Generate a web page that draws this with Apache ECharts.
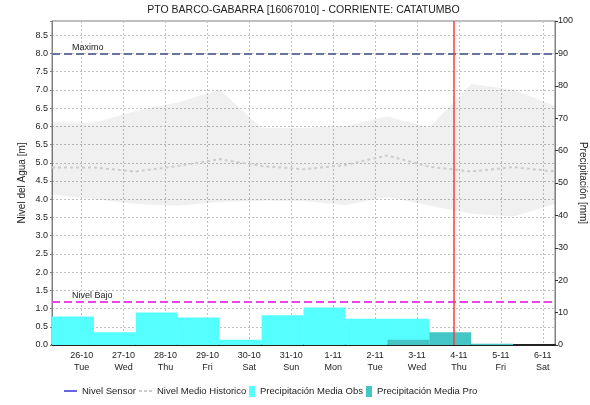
<!DOCTYPE html>
<html>
<head>
<meta charset="utf-8">
<script src="https://cdn.jsdelivr.net/npm/echarts@6/dist/echarts.min.js"></script>
<style>
  html, body { margin: 0; padding: 0; background: #fff; }
  #chart { width: 590px; height: 405px; }
</style>
</head>
<body>
<div id="chart"></div>
<script>
// Hydrological days: each runs from 07:00 to 07:00 of the next day
const dayBounds = [
  '2021-10-25 07:00', '2021-10-26 07:00', '2021-10-27 07:00', '2021-10-28 07:00',
  '2021-10-29 07:00', '2021-10-30 07:00', '2021-10-31 07:00', '2021-11-01 07:00',
  '2021-11-02 07:00', '2021-11-03 07:00', '2021-11-04 07:00', '2021-11-05 07:00',
  '2021-11-06 07:00'
];

// Historic water level envelope [m] at each day boundary
const nivelMinimo = [4.13, 4.00, 3.87, 3.82, 3.92, 3.96, 3.95, 3.84, 4.06, 3.83, 3.60, 3.52, 3.87];
const nivelMedio  = [4.87, 4.87, 4.76, 4.91, 5.10, 4.91, 4.82, 4.94, 5.20, 4.89, 4.76, 4.88, 4.76];
const nivelMaximo = [6.11, 6.10, 6.43, 6.65, 7.01, 5.95, 5.96, 6.01, 6.27, 5.97, 7.16, 7.01, 6.56];

// Daily mean precipitation [mm], one value per hydrological day
const precipObs = [8.8, 3.9, 10.0, 8.5, 1.6, 9.2, 11.6, 8.1, 8.1, null, null, null];
const precipPro = [null, null, null, null, null, null, null, null, 1.6, 3.9, 0.4, null];

// Reference levels [m] and current time marker
const nivelMaximoRef = 8.0;
const nivelBajoRef = 1.2;
const horaActual = '2021-11-03 21:00';

const diasSemana = ['Sun', 'Mon', 'Tue', 'Wed', 'Thu', 'Fri', 'Sat'];

const FONT = '"Liberation Sans", Arial, sans-serif';
const DAY = 24 * 3600 * 1000;

function ts(s) {
  const [d, t] = s.split(' ');
  const [Y, M, D] = d.split('-').map(Number);
  const [h, mi] = t.split(':').map(Number);
  return new Date(Y, M - 1, D, h, mi).getTime();
}

const times = dayBounds.map(ts);
const bandLow = times.map((t, i) => [t, nivelMinimo[i]]);
const bandSpan = times.map((t, i) => [t, +(nivelMaximo[i] - nivelMinimo[i]).toFixed(3)]);
const meanLine = times.map((t, i) => [t, nivelMedio[i]]);

function toBars(values) {
  const out = [];
  values.forEach((v, i) => {
    if (v != null) out.push([times[i], times[i + 1], v]);
  });
  return out;
}

function renderBar(params, api) {
  const top = api.coord([api.value(0), api.value(2)]);
  const bottom = api.coord([api.value(1), 0]);
  return {
    type: 'rect',
    shape: { x: top[0], y: top[1], width: bottom[0] - top[0], height: bottom[1] - top[1] },
    style: { fill: api.visual('color') }
  };
}

const chart = echarts.init(document.getElementById('chart'), null, { renderer: 'canvas' });

const legendText = { fontSize: 9.5, color: '#222', fontFamily: FONT };
// Legend glyphs: a plain line, a dashed line and small swatches
const iconLine = 'path://M0,0H13V1.2H0Z';
const iconDashed = 'path://M0,0H3V2H0Z M5,0H8V2H5Z M10,0H13V2H10Z';

function legendAt(name, icon, left, width) {
  return {
    data: [{ name: name, icon: icon }],
    left: left, top: 386, padding: 0,
    itemWidth: width, itemHeight: 11,
    textStyle: legendText
  };
}

chart.setOption({
  animation: false,
  backgroundColor: '#fff',
  textStyle: { fontFamily: FONT },
  title: {
    text: 'PTO BARCO-GABARRA [16067010] - CORRIENTE: CATATUMBO',
    left: 303.5,
    textAlign: 'center',
    top: 5,
    padding: 0,
    textStyle: { fontSize: 10.5, fontWeight: 'normal', color: '#222', fontFamily: FONT }
  },
  legend: [
    legendAt('Nivel Sensor', iconLine, 64, 13),
    legendAt('Nivel Medio Historico', iconDashed, 139, 13),
    legendAt('Precipitación Media Obs', 'rect', 249, 6),
    legendAt('Precipitación Media Pro', 'rect', 366, 6)
  ],
  grid: {
    left: 52, right: 35, top: 21, bottom: 60,
    outerBoundsMode: 'none',
    containLabel: false,
    show: true, borderColor: '#808080', borderWidth: 1, backgroundColor: 'transparent'
  },
  xAxis: {
    type: 'time',
    min: times[0],
    max: times[times.length - 1],
    minInterval: DAY,
    maxInterval: DAY,
    axisLine: { show: true, lineStyle: { color: '#222', width: 2, type: [1, 0.75] } },
    axisTick: { show: false },
    splitLine: { show: true, lineStyle: { color: '#C0C0C0', width: 1, type: [2, 2] } },
    axisLabel: {
      margin: 5,
      fontSize: 9,
      lineHeight: 12,
      color: '#222',
      fontFamily: FONT,
      formatter: function (v) {
        const d = new Date(v);
        if (d.getHours() !== 0 || d.getMinutes() !== 0) return '';
        return d.getDate() + '-' + (d.getMonth() + 1) + '\n' + diasSemana[d.getDay()];
      }
    }
  },
  yAxis: [
    {
      type: 'value',
      min: 0,
      max: 80 / 9,
      interval: 0.5,
      name: 'Nivel del Agua [m]',
      nameLocation: 'middle',
      nameMoveOverlap: false,
      nameGap: 25,
      nameTextStyle: { fontSize: 10, color: '#222', fontFamily: FONT },
      axisLine: { show: true, lineStyle: { color: '#808080', width: 1 } },
      axisTick: { show: true, length: 2, lineStyle: { color: '#808080' } },
      splitLine: { show: true, lineStyle: { color: '#C0C0C0', width: 1, type: [2, 2] } },
      axisLabel: {
        fontSize: 9, color: '#222', margin: 4, fontFamily: FONT,
        formatter: v => (v > 8.6 ? '' : v.toFixed(1))
      }
    },
    {
      type: 'value',
      min: 0,
      max: 100,
      interval: 10,
      position: 'right',
      name: 'Precipitación [mm]',
      nameLocation: 'middle',
      nameMoveOverlap: false,
      nameGap: 23,
      nameRotate: -90,
      nameTextStyle: { fontSize: 10, color: '#222', fontFamily: FONT },
      axisLine: { show: true, lineStyle: { color: '#808080', width: 1 } },
      axisTick: { show: true, length: 3, lineStyle: { color: '#333' } },
      splitLine: { show: false },
      axisLabel: { fontSize: 9, color: '#222', margin: 3, fontFamily: FONT }
    }
  ],
  series: [
    {
      name: 'Rango Historico Min',
      type: 'line',
      stack: 'rango',
      data: bandLow,
      symbol: 'none',
      silent: true,
      lineStyle: { opacity: 0 },
      z: 1
    },
    {
      name: 'Rango Historico',
      type: 'line',
      stack: 'rango',
      data: bandSpan,
      symbol: 'none',
      silent: true,
      lineStyle: { opacity: 0 },
      areaStyle: { color: 'rgba(0,0,0,0.06)', opacity: 1 },
      z: 1
    },
    {
      name: 'Nivel Medio Historico',
      type: 'line',
      data: meanLine,
      symbol: 'none',
      color: '#CCCCCC',
      lineStyle: { color: '#CCCCCC', width: 2, type: [3, 3] },
      z: 2
    },
    {
      name: 'Precipitación Media Obs',
      type: 'custom',
      yAxisIndex: 1,
      renderItem: renderBar,
      encode: { x: [0, 1], y: 2 },
      data: toBars(precipObs),
      itemStyle: { color: '#55FFFF' },
      z: 3
    },
    {
      name: 'Precipitación Media Pro',
      type: 'custom',
      yAxisIndex: 1,
      renderItem: renderBar,
      encode: { x: [0, 1], y: 2 },
      data: toBars(precipPro),
      itemStyle: { color: '#44C6C6' },
      z: 4
    },
    {
      name: 'Nivel Sensor',
      type: 'line',
      data: [],
      symbol: 'none',
      color: '#0000CC',
      lineStyle: { color: '#0000CC', width: 1.5 },
      z: 5,
      markLine: {
        silent: true,
        symbol: ['none', 'none'],
        animation: false,
        data: [
          {
            yAxis: nivelMaximoRef,
            lineStyle: { color: '#6675A0', width: 2, type: [8, 4] },
            label: { show: true, formatter: 'Maximo', position: 'insideStartTop', distance: [20, 1], fontSize: 9, color: '#222', fontFamily: FONT }
          },
          {
            yAxis: nivelBajoRef,
            lineStyle: { color: '#EE44EE', width: 2, type: [8, 4] },
            label: { show: true, formatter: 'Nivel Bajo', position: 'insideStartTop', distance: [20, 1], fontSize: 9, color: '#222', fontFamily: FONT }
          },
          {
            xAxis: ts(horaActual),
            lineStyle: { color: '#FF3B3B', width: 1.5, type: 'solid' },
            label: { show: false }
          }
        ]
      }
    }
  ]
});
</script>
</body>
</html>
